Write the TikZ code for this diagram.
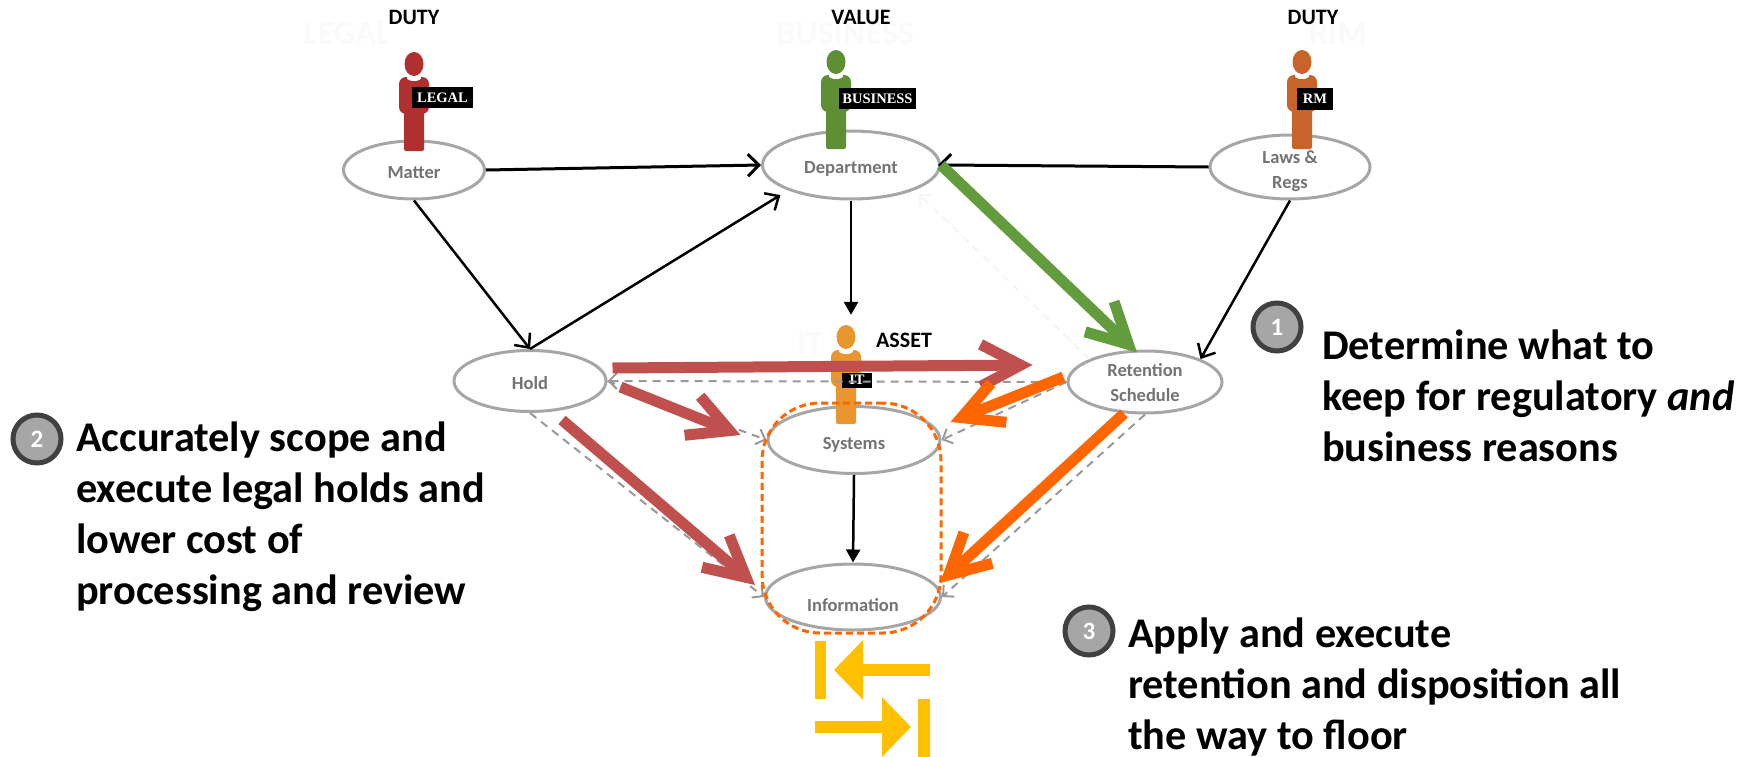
\documentclass[tikz,border=0pt]{standalone}
\usepackage{fontspec}
\setmainfont{Carlito}
\newfontfamily\tagfont{Liberation Serif}
\usetikzlibrary{arrows.meta, positioning, shapes.geometric}

\definecolor{legalred}{HTML}{B03030}
\definecolor{bizgreen}{HTML}{5F8F35}
\definecolor{rmorange}{HTML}{C8642A}
\definecolor{itorange}{HTML}{E8962F}
\definecolor{holdred}{HTML}{C0504D}
\definecolor{keeporange}{HTML}{FF6600}
\definecolor{arrowgreen}{HTML}{629C3C}
\definecolor{flooryellow}{HTML}{FFC000}

\tikzset{
    entity/.style={draw=black!35, line width=3pt, fill=white, ellipse, inner sep=0pt, text=black!55,
        font=\bfseries\fontsize{18.5}{25}\selectfont, align=center},
    headline/.style={font=\bfseries\fontsize{22}{26}\selectfont, inner sep=0pt},
    ghost/.style={font=\bfseries\fontsize{34}{36}\selectfont, text=black!2, inner sep=0pt},
    goal/.style={font=\bfseries\fontsize{42.3}{51}\selectfont, align=left, anchor=north west, inner sep=0pt},
    badge/.style={circle, draw=black!75, line width=5pt, fill=black!35, text=white, minimum size=48pt,
        inner sep=0pt, font=\bfseries\fontsize{25}{25}\selectfont},
    badgetag/.style={fill=black, text=white, inner sep=0pt, font=\tagfont\bfseries\fontsize{14.5}{15}\selectfont},
    plain/.style={black, line width=2.5pt, -{Straight Barb[length=11pt,width=20pt]}},
    heavy/.style={black, line width=3pt, -{Straight Barb[length=11pt,width=22pt]}},
    solidhead/.style={black, line width=2.5pt, -{Triangle[length=13pt,width=14pt]}},
    ghostline/.style={black!40, dashed, line width=2pt, dash pattern=on 8pt off 6pt, -{Straight Barb[length=8pt,width=16pt]}},
    shadowed/.style={preaction={draw=black!20, transform canvas={shift={(1.5pt,-3pt)}}}},
    fatarrow/.style={shadowed, line width=11pt, -{Straight Barb[length=40pt,width=42pt]}},
    floorarrow/.style={flooryellow, line width=12pt, -{Triangle[length=29pt,width=58pt]}},
}

% label text, lowered from the middle of its ellipse
\newcommand{\lowtext}[2]{\raisebox{-#1pt}[0pt][0pt]{#2}}
\newcommand{\twolines}[3]{\raisebox{-#1pt}[0pt][0pt]{\begin{tabular}{@{}c@{}}#2\\#3\end{tabular}}}

% one person standing on an ellipse
\newcommand{\staff}[6]{%
    \begin{scope}[shift={(#2,#3)}]
        \fill[#4, rounded corners=7pt] (-15,13) rectangle (15,50);
        \fill[#4, rounded corners=2pt] (-10,40) rectangle (10,87);
        \fill[white] (-7,11) rectangle (7,14);
        \fill[white] (0,14) ellipse [x radius=7, y radius=3];
        \node[ellipse, fill=#4, minimum width=19pt, minimum height=24pt, inner sep=0pt] (#1head) at (0,0) {};
    \end{scope}
    \node[badgetag, #6] (#1tag) at #5 {#1};
}

\begin{document}
\begin{tikzpicture}[x=1pt, y=-1pt]
    \useasboundingbox (0,0) rectangle (1755,757);

    % Faint leftovers
    \node[ghost] (ghostlegal) at (347,33) {LEGAL};
    \node[ghost] (ghostbiz) at (845,33) {BUSINESS};
    \node[ghost] (ghostrm) at (1338,33) {RIM};
    \node[ghost] (ghostit) at (810,343) {IT};

    % Ellipses
    \node[entity, minimum width=141pt, minimum height=58pt] (matter) at (414,170) {\lowtext{8}{Matter}};
    \node[entity, minimum width=177pt, minimum height=68pt] (department) at (851,165) {\lowtext{8}{Department}};
    \node[entity, minimum width=160pt, minimum height=64pt] (laws) at (1290,167) {\twolines{8}{Laws \&}{Regs}};
    \node[entity, minimum width=152pt, minimum height=61pt] (hold) at (530,381) {\lowtext{8}{Hold}};
    \node[entity, minimum width=154pt, minimum height=62pt] (retention) at (1145,382) {\twolines{6.6}{Retention}{Schedule}};
    \node[entity, minimum width=172pt, minimum height=67pt] (systems) at (854,440) {\lowtext{9}{Systems}};
    \node[entity, minimum width=175pt, minimum height=66pt] (information) at (853,597) {\lowtext{14}{Information}};

    % People
    \staff{LEGAL}{414}{64}{legalred}{(442.5,97.5)}{minimum width=61pt, minimum height=21pt}
    \staff{BUSINESS}{836}{62}{bizgreen}{(877.5,98.5)}{minimum width=77pt, minimum height=21pt}
    \staff{RM}{1302}{62}{rmorange}{(1315,99)}{minimum width=36pt, minimum height=22pt}
    \staff{IT}{846}{337}{itorange}{(857,380)}{minimum width=30pt, minimum height=15pt}

    % Headings
    \node[headline] (dutyleft) at (414,17) {DUTY};
    \node[headline] (value) at (861,17) {VALUE};
    \node[headline] (dutyright) at (1313,17) {DUTY};
    \node[headline] (asset) at (904,340) {ASSET};

    % Dashed links
    \draw[ghostline] (retention.west) -- (hold.east);
    \draw[ghostline] (hold.east) -- (systems.west);
    \draw[ghostline] (hold.south) -- (information.west);
    \draw[ghostline] (retention.west) -- (systems.east);
    \draw[ghostline] (retention.south) -- (information.east);
    \draw[ghostline, black!4, shorten >=6pt] (retention.north west) -- (department.south east);

    % Scope of records
    \node[draw=keeporange, dashed, line width=3pt, dash pattern=on 7pt off 4pt, rounded corners=58pt,
        minimum width=179pt, minimum height=230pt, inner sep=0pt] (recordscope) at (851.5,518) {};

    % Black links
    \draw[heavy] (matter.east) -- (department.west);
    \draw[heavy, shorten >=-3pt] (laws.west) -- (department.east);
    \draw[plain] (matter.south) -- (hold.north);
    \draw[plain] (hold.north) -- ([shift={(-7,5)}]department.south west);
    \draw[solidhead] (department.south) -- ([shift={(5,-10)}]IThead.north);
    \draw[plain] (laws.south) -- (retention.north east);
    \draw[solidhead] (systems.south) -- (information.north);

    % Fat arrows
    \draw[fatarrow, arrowgreen] (department.east) -- ([shift={(-8,3)}]retention.north);
    \draw[fatarrow, holdred] ([shift={(5,-13)}]hold.east) -- ([shift={(-34,-17)}]retention.west);
    \draw[fatarrow, holdred] ([shift={(13,6)}]hold.east) -- ([shift={(-26,-5)}]systems.west);
    \draw[fatarrow, holdred] ([shift={(32,7)}]hold.south) -- ([shift={(-9,-12)}]information.west);
    \draw[fatarrow, keeporange] ([shift={(-3,-5)}]retention.west) -- ([shift={(9,-18)}]systems.east);
    \draw[fatarrow, keeporange] ([shift={(-21,-1)}]retention.south) -- ([shift={(-2,-14)}]information.east);

    % Floor arrows
    \fill[flooryellow] (815,641) rectangle (826,699);
    \fill[flooryellow] (918,699) rectangle (930,757);
    \coordinate (floorleftstart) at (930,670);
    \coordinate (floorleftend) at (834,670);
    \coordinate (floorrightstart) at (815,727);
    \coordinate (floorrightend) at (911,727);
    \draw[floorarrow] (floorleftstart) -- (floorleftend);
    \draw[floorarrow] (floorrightstart) -- (floorrightend);

    % Goals
    \node[badge] (badgeone) at (1277,327) {1};
    \node[goal] (goalone) at (1322,330) {Determine what to\\keep for regulatory \textit{and}\\business reasons};
    \node[badge] (badgetwo) at (37,439) {2};
    \node[goal] (goaltwo) at (76,422) {Accurately scope and\\execute legal holds and\\lower cost of\\processing and review};
    \node[badge] (badgethree) at (1089,631) {3};
    \node[goal] (goalthree) at (1128,618) {Apply and execute\\retention and disposition all\\the way to floor};
\end{tikzpicture}
\end{document}
